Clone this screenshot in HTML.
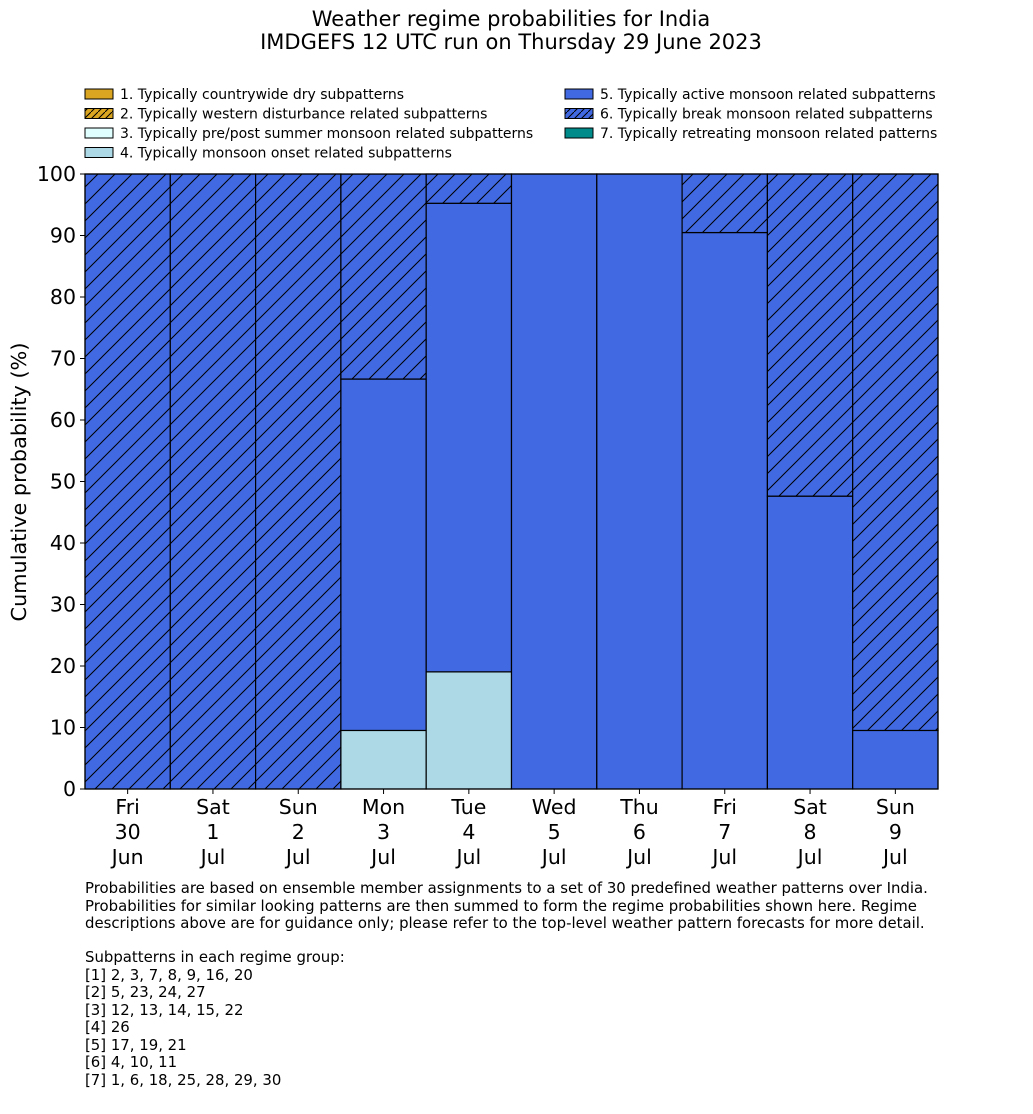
<!DOCTYPE html>
<html><head><meta charset="utf-8">
<style>
body{margin:0;background:#fff;font-family:"DejaVu Sans","Liberation Sans",sans-serif;}
#wrap{position:relative;width:1033px;height:1114px;overflow:hidden;}
svg text{font-family:"DejaVu Sans","Liberation Sans",sans-serif;}
</style></head>
<body>
<div id="wrap">
<svg id="chart" width="1033" height="1114" style="position:absolute;left:0;top:0">
<defs>
<pattern id="hatch" patternUnits="userSpaceOnUse" width="17" height="17">
<rect width="17" height="17" fill="#4169e1"/>
<path d="M-2,19 L19,-2 M-4,4 L4,-4 M13,21 L21,13" stroke="#000" stroke-width="1"/>
</pattern>
<pattern id="hatchL" patternUnits="userSpaceOnUse" width="7" height="7">
<rect width="7" height="7" fill="#4169e1"/>
<path d="M-1,8 L8,-1" stroke="#000" stroke-width="1"/>
</pattern>
<pattern id="hatchG" patternUnits="userSpaceOnUse" width="7" height="7">
<rect width="7" height="7" fill="#daa520"/>
<path d="M-1,8 L8,-1" stroke="#000" stroke-width="1"/>
</pattern>
</defs>
<g id="g-title">
<text x="511" y="26" text-anchor="middle" font-size="21">Weather regime probabilities for India</text>
<text x="511" y="49" text-anchor="middle" font-size="21">IMDGEFS 12 UTC run on Thursday 29 June 2023</text>
</g>
<g id="legend"></g>
<g id="bars"></g>
<g id="axes"></g>
<text transform="translate(26,482) rotate(-90)" text-anchor="middle" font-size="20.8">Cumulative probability (%)</text>
<g font-size="14.9">
<text x="85" y="893">Probabilities are based on ensemble member assignments to a set of 30 predefined weather patterns over India.</text>
<text x="85" y="911">Probabilities for similar looking patterns are then summed to form the regime probabilities shown here. Regime</text>
<text x="85" y="928">descriptions above are for guidance only; please refer to the top-level weather pattern forecasts for more detail.</text>
<text x="85" y="962">Subpatterns in each regime group:</text>
<text x="85" y="980">[1] 2, 3, 7, 8, 9, 16, 20</text>
<text x="85" y="997">[2] 5, 23, 24, 27</text>
<text x="85" y="1015">[3] 12, 13, 14, 15, 22</text>
<text x="85" y="1032">[4] 26</text>
<text x="85" y="1050">[5] 17, 19, 21</text>
<text x="85" y="1067">[6] 4, 10, 11</text>
<text x="85" y="1085">[7] 1, 6, 18, 25, 28, 29, 30</text>
</g>
</svg>
</div>
<script>
const days = ["Fri","Sat","Sun","Mon","Tue","Wed","Thu","Fri","Sat","Sun"];
const dates = ["30","1","2","3","4","5","6","7","8","9"];
const months = ["Jun","Jul","Jul","Jul","Jul","Jul","Jul","Jul","Jul","Jul"];
const onset = [0,0,0,9.52,19.05,0,0,0,0,0];
const active = [0,0,0,57.14,76.19,100,100,90.48,47.62,9.52];
const breakM = [100,100,100,33.33,4.76,0,0,9.52,52.38,90.48];
const yTicks = [0,10,20,30,40,50,60,70,80,90,100];
const legendLabels = ["1. Typically countrywide dry subpatterns","2. Typically western disturbance related subpatterns","3. Typically pre/post summer monsoon related subpatterns","4. Typically monsoon onset related subpatterns","5. Typically active monsoon related subpatterns","6. Typically break monsoon related subpatterns","7. Typically retreating monsoon related patterns"];
const legendFills = ["#daa520","url(#hatchG)","#e0ffff","#add8e6","#4169e1","url(#hatchL)","#008b8b"];

const NS="http://www.w3.org/2000/svg";
const X0=85,X1=938,Y0=789,Y1=174;
const bw=(X1-X0)/days.length;
const xs=i=>X0+i*bw;
const ys=v=>Y0-(v/100)*(Y0-Y1);
function mk(tag,attrs,parent){const e=document.createElementNS(NS,tag);for(const k in attrs)e.setAttribute(k,attrs[k]);parent.appendChild(e);return e;}
const bars=document.getElementById('bars');
const series=[[onset,'#add8e6','onset'],[active,'#4169e1','active'],[breakM,'url(#hatch)','break']];
days.forEach((d,i)=>{
  let base=0;
  series.forEach(([arr,fill,nm])=>{
    const v=arr[i]; if(v<=0) return;
    const r=mk('rect',{x:xs(i),y:ys(base+v),width:bw,height:ys(base)-ys(base+v),fill:fill,stroke:'#000','stroke-width':1.2},bars);
    
    
    base+=v;
  });
});
const axes=document.getElementById('axes');
const fr=mk('rect',{x:X0,y:Y1,width:X1-X0,height:Y0-Y1,fill:'none',stroke:'#000','stroke-width':1.2},axes);


yTicks.forEach(t=>{
  mk('line',{x1:X0-5,x2:X0,y1:ys(t),y2:ys(t),stroke:'#000'},axes);
  const tx=mk('text',{x:X0-9,y:ys(t)+7,'text-anchor':'end','font-size':20.5},axes);
  tx.textContent=t;
  
  
});
days.forEach((d,i)=>{
  const cx=xs(i)+bw/2;
  mk('line',{x1:cx,x2:cx,y1:Y0,y2:Y0+5,stroke:'#000'},axes);
  [d,dates[i],months[i]].forEach((s,j)=>{
    const tx=mk('text',{x:cx,y:814+j*25,'text-anchor':'middle','font-size':20.5},axes);
    tx.textContent=s;
    
    
  });
});
const lg=document.getElementById('legend');
legendLabels.forEach((l,i)=>{
  const col=i<4?0:1, row=i<4?i:i-4;
  const x=col?565:85, y=89+row*19.5;
  const r=mk('rect',{x:x,y:y,width:28,height:10,fill:legendFills[i],stroke:'#000','stroke-width':1},lg);
  
  
  const t=mk('text',{x:x+35,y:y+10,'font-size':14},lg);
  t.textContent=l;
  
  
});
</script>
</body></html>
